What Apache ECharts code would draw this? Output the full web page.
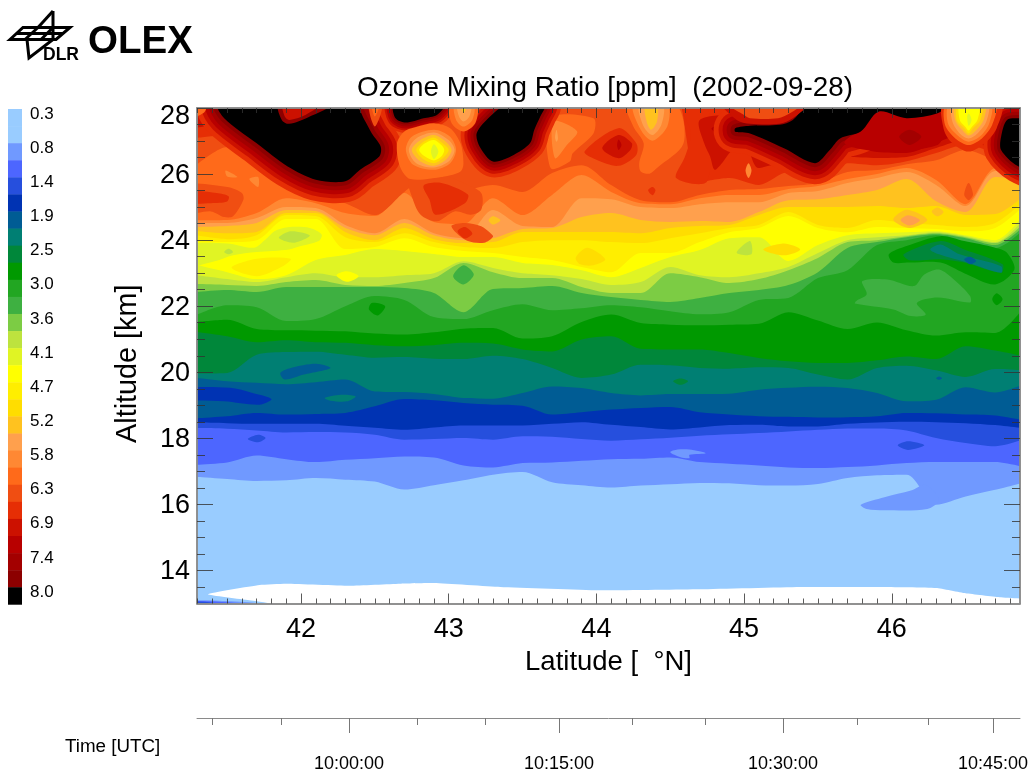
<!DOCTYPE html>
<html><head><meta charset="utf-8">
<style>html,body{margin:0;padding:0;background:#fff}#c{width:1033px;height:774px}</style>
<script src="https://cdn.jsdelivr.net/npm/echarts@6/dist/echarts.min.js"></script>
</head><body><div id="c"></div>
<script>
// ---------- legend ----------
const levelColors = [null,'#99CCFF','#99CCFF','#7099FF','#4D66FF','#264FDD','#0033B3','#005C94','#007F73','#00873A','#009900','#22A622','#3EB041','#7CCC44','#BDE33E','#E0F424','#FFFF00','#FFEE00','#FFDD00','#FFC21F','#FFA04D','#FF8833','#FF6A1A','#F04E12','#E62E05','#CC1100','#B80000','#A30000','#8C0000','#000000'];
const legendLabels = ['0.3','0.8','1.4','1.9','2.5','3.0','3.6','4.1','4.7','5.2','5.8','6.3','6.9','7.4','8.0'];
// ---------- axes ----------
const latLabels = [42,43,44,45,46];
const latMinor = [41.3,41.4,41.5,41.6,41.7,41.8,41.9,42.1,42.2,42.3,42.4,42.5,42.6,42.7,42.8,42.9,43.1,43.2,43.3,43.4,43.5,43.6,43.7,43.8,43.9,44.1,44.2,44.3,44.4,44.5,44.6,44.7,44.8,44.9,45.1,45.2,45.3,45.4,45.5,45.6,45.7,45.8,45.9,46.1,46.2,46.3,46.4,46.5,46.6,46.7,46.8];
const altLabels = [14,16,18,20,22,24,26,28];
const altMinor = [13.5,14.5,15,15.5,16.5,17,17.5,18.5,19,19.5,20.5,21,21.5,22.5,23,23.5,24.5,25,25.5,26.5,27,27.5];
const timeMajorLat = [42.325,43.747,45.263,46.685];
const timeLabels = ['10:00:00','10:15:00','10:30:00','10:45:00'];
const timeMinorLat = [41.40,41.865,42.785,43.25,44.24,44.735,45.765,46.245];
// ---------- contour boundaries: altitude [km] at each latitude station ----------
const latStations = [41.29,41.5,41.7,41.9,42.1,42.3,42.5,42.7,42.9,43.1,43.3,43.5,43.7,43.9,44.1,44.3,44.5,44.7,44.9,45.1,45.3,45.5,45.7,45.9,46.1,46.3,46.5,46.7,46.9];
const b3 = [16.83,16.77,16.71,16.73,16.80,16.75,16.69,16.45,16.58,16.73,16.90,16.98,16.67,16.58,16.51,16.57,16.61,16.65,16.64,16.58,16.57,16.62,16.80,16.88,16.90,15.99,16.24,16.44,16.67];
const b4 = [17.20,17.27,17.48,17.37,17.28,17.35,17.40,17.45,17.42,17.18,17.12,17.25,17.27,17.32,17.37,17.38,17.42,17.28,17.23,17.18,17.12,17.10,17.13,17.18,17.25,17.28,17.28,17.28,17.12];
const b5 = [18.31,18.29,18.24,18.18,18.19,18.18,18.11,17.96,17.98,18.01,17.96,18.06,18.05,17.98,17.93,17.97,18.02,18.08,18.12,18.16,18.21,18.26,18.30,18.30,18.24,18.01,17.86,17.76,17.98];
const b6 = [18.48,18.46,18.44,18.44,18.44,18.38,18.32,18.26,18.33,18.39,18.39,18.39,18.44,18.49,18.41,18.34,18.27,18.33,18.40,18.41,18.36,18.36,18.44,18.48,18.50,18.49,18.46,18.40,18.30];
const b7 = [18.61,18.67,18.77,18.72,18.74,18.77,18.97,19.19,19.15,19.07,19.02,18.99,18.72,18.79,18.87,18.92,18.95,18.79,18.72,18.67,18.65,18.63,18.64,18.67,18.77,18.76,18.72,18.69,18.54];
const b8 = [19.83,19.73,19.68,19.64,19.70,19.78,19.42,19.40,19.34,19.22,19.20,19.37,19.57,19.52,19.37,19.30,19.34,19.34,19.35,19.47,19.53,19.56,19.52,19.37,19.12,19.17,19.55,19.39,19.65];
const b9 = [19.96,19.98,20.53,20.61,20.62,20.53,20.44,20.46,20.41,20.40,20.50,20.40,20.13,19.83,19.93,20.23,20.21,20.13,20.11,20.15,20.13,19.93,19.78,20.13,20.20,20.06,19.86,20.10,20.06];
const b10 = [21.22,21.09,20.91,20.97,20.91,20.89,20.82,20.79,20.82,20.89,20.87,20.69,20.63,20.99,21.09,20.71,20.69,20.69,20.58,20.43,20.33,20.28,20.28,20.36,20.48,20.40,20.79,20.66,20.48];
const b11 = [21.52,21.59,21.31,21.27,21.26,21.24,21.17,21.14,21.21,21.32,21.34,21.02,21.09,21.52,21.75,21.49,21.44,21.42,21.44,21.47,21.82,21.57,21.31,21.51,21.27,21.11,21.21,21.19,22.0];
const b12 = [21.73,22.03,21.97,21.55,21.61,22.0,22.31,22.19,21.67,21.61,21.88,22.06,21.88,21.94,22.03,21.97,21.85,21.76,21.82,22.19,22.25,22.85,23.09,23.85,24.0,24.15,23.94,23.76,24.36];
const b13 = [22.43,22.49,22.43,22.58,22.58,22.58,22.58,22.55,22.40,21.82,22.52,22.55,22.61,22.40,22.28,22.19,22.13,22.25,22.40,22.49,22.64,23.03,23.76,23.94,24.09,24.18,24.06,23.85,24.46];
const b14 = [22.67,22.64,22.61,22.73,22.79,22.64,22.61,22.70,22.85,23.31,23.03,22.85,22.85,22.58,22.40,22.40,23.0,22.88,22.70,22.82,23.09,23.46,23.94,24.0,24.12,24.21,24.09,23.91,24.55];
const b15 = [22.94,22.82,22.73,22.88,23.0,22.88,22.88,22.94,23.0,23.36,23.16,23.0,22.94,22.82,22.64,22.73,23.19,22.94,22.88,23.0,23.19,23.61,24.0,24.09,24.15,24.24,24.12,23.94,24.67];
const b16 = [23.25,23.03,22.82,22.94,23.40,23.55,23.73,23.67,23.58,23.49,23.49,23.31,23.25,23.09,22.88,23.16,23.49,23.70,24.06,24.09,23.37,23.85,24.15,24.21,24.24,24.27,24.15,24.0,24.82];
const b17 = [23.97,23.94,24.0,24.64,24.64,23.73,23.79,24.06,23.79,23.67,23.61,23.49,23.40,23.19,23.03,23.61,23.61,23.94,24.24,24.37,24.73,24.37,24.24,24.40,24.37,24.34,24.27,24.37,25.06];
const b18 = [24.15,24.03,24.15,24.76,24.73,24.09,23.94,24.21,23.94,23.79,23.76,23.94,24.0,24.0,23.94,23.91,24.06,24.21,24.37,24.46,24.85,24.46,24.37,24.61,24.52,24.46,24.40,24.52,25.21];
const b19 = [24.28,24.21,24.25,24.82,24.82,24.25,24.0,24.37,24.03,23.91,23.94,24.25,24.25,24.25,24.25,24.21,24.37,24.43,24.46,24.76,25.0,25.0,25.0,25.03,24.97,25.03,24.76,24.79,25.37];
const b20 = [24.40,24.43,24.52,24.91,24.88,24.37,24.15,24.52,24.15,24.0,24.06,24.34,24.37,24.70,24.82,24.61,24.55,24.58,24.55,24.85,25.21,25.24,25.37,25.52,25.85,25.18,24.85,25.91,25.82];
const b21 = [24.52,24.52,24.67,25.0,24.97,24.46,24.21,24.64,24.21,24.06,24.91,24.43,24.40,25.27,25.24,25.0,24.97,25.09,25.15,25.15,25.43,25.49,25.73,25.88,26.06,25.67,25.03,26.09,26.06];
const b22 = [24.60,24.61,24.82,25.27,25.12,24.82,24.73,25.43,24.55,24.49,25.27,24.76,25.37,25.97,25.46,25.12,25.09,25.27,25.37,25.37,25.55,25.64,25.85,26.0,26.18,25.82,25.09,26.18,26.21];
const b23 = [26.27,26.82,26.21,25.58,25.37,25.12,24.76,25.46,26.06,25.52,25.67,25.46,26.03,26.27,25.67,25.21,25.15,25.37,25.52,25.55,25.64,25.73,26.06,26.12,26.30,26.42,26.73,26.42,26.12];
const b24 = [27.09,27.18,26.49,25.88,25.52,25.24,26.21,29,29,29,29,29,29,29,29,29,29,25.76,25.88,25.67,26.06,25.88,26.33,26.27,26.39,26.64,26.88,26.64,26.33];
const b25 = [27.39,27.55,26.64,25.97,25.61,25.30,26.33,29,29,29,29,29,29,29,29,29,29,29,29,26.18,26.37,25.97,26.52,26.49,26.52,26.79,27.03,26.73,26.49];
const b26 = [29,29,29,29,29,29,29,29,29,29,29,29,29,29,29,29,29,29,29,26.49,26.73,26.12,26.82,26.67,26.64,26.94,27.24,26.94,26.64];
const boundaries = [[3,b3],[4,b4],[5,b5],[6,b6],[7,b7],[8,b8],[9,b9],[10,b10],[11,b11],[12,b12],[13,b13],[14,b14],[15,b15],[16,b16],[17,b17],[18,b18],[19,b19],[20,b20],[21,b21],[22,b22],[23,b23],[24,b24],[25,b25],[26,b26]];
// ---------- closed contours: [level, [lat, alt, lat, alt, ...]] ----------
const basePatch = [[1,[41.2,12.9,47,12.9,47,28.1,41.2,28.1]]];
const lowerPatches = [
 [3,[41.2,13.09,41.75,13.0,41.75,12.9,41.2,12.9]],
 [4,[41.2,13.07,41.62,13.0,41.62,12.9,41.2,12.9]],
 [5,[41.2,13.05,41.42,13.01,41.42,12.9,41.2,12.9]],
 [3,[45.79,15.99,45.95,16.22,46.13,16.42,46.23,16.59,46.32,16.14,46.24,15.86,45.95,15.82,45.83,15.86]],
 [3,[44.50,17.58,44.55,17.66,44.63,17.66,44.74,17.55,44.63,17.50,44.63,17.40,44.57,17.43]],
 [5,[41.64,17.98,41.71,18.11,41.76,18.01,41.71,17.88]],
 [5,[46.04,17.79,46.11,17.91,46.22,17.79,46.11,17.65]],
 [6,[41.2,19.5,41.52,19.53,41.66,19.39,41.80,19.19,41.72,19.02,41.48,19.12,41.2,19.2]],
 [8,[42.16,19.22,42.27,19.32,42.37,19.27,42.31,19.12,42.20,19.14]],
 [7,[41.86,19.98,41.93,20.13,42.10,20.26,42.20,20.13,42.02,19.93,41.89,19.78]],
 [9,[44.52,19.73,44.57,19.81,44.62,19.73,44.57,19.62]],
 [7,[46.30,19.82,46.32,19.87,46.34,19.82,46.32,19.77]],
 [10,[42.46,21.9,42.48,22.1,42.57,22.0,42.52,21.72]],
 [10,[46.68,22.21,46.71,22.39,46.75,22.21,46.71,22.03]],
 [12,[45.80,22.76,45.97,22.81,46.15,22.61,46.22,22.96,46.32,23.11,46.42,22.81,46.53,22.31,46.53,22.11,46.31,22.26,46.17,22.10,46.23,21.75,46.13,21.70,46.01,21.9,45.75,22.08,45.76,22.16,45.83,22.36]],
 [12,[43.03,22.91,43.10,23.24,43.17,22.96,43.10,22.66]],
 [10,[45.98,23.57,46.10,23.82,46.33,24.12,46.49,23.97,46.70,23.77,46.78,23.62,46.83,23.11,46.70,22.66,46.49,23.0,46.33,23.32,46.12,23.32,46.01,23.32]],
 [9,[46.08,23.57,46.33,23.97,46.49,23.72,46.75,23.27,46.74,23.01,46.49,23.32,46.33,23.42,46.12,23.39]],
 [8,[46.26,23.72,46.33,23.87,46.46,23.57,46.74,23.21,46.74,23.01,46.51,23.32,46.32,23.57]],
 [7,[46.49,23.42,46.53,23.50,46.57,23.37,46.53,23.27]],
 [15,[41.2,23.82,41.50,23.90,41.68,23.77,41.76,24.02,41.82,24.27,41.91,24.39,42.06,24.37,42.14,24.17,42.12,23.97,42.0,23.82,41.92,23.72,41.70,23.64,41.54,23.54,41.41,23.35,41.2,23.2]],
 [14,[41.85,24.07,41.93,24.27,42.06,24.14,41.95,23.92]],
 [14,[41.48,23.64,41.51,23.74,41.54,23.64,41.51,23.57]],
 [17,[41.53,23.17,41.70,23.44,41.93,23.44,41.88,23.22,41.70,22.91]],
 [16,[42.24,22.94,42.31,23.06,42.39,22.91,42.31,22.74]],
 [14,[44.95,23.62,45.04,23.97,45.05,23.57]],
 [18,[43.86,23.47,43.94,23.77,44.06,23.42,43.98,23.24,43.89,23.27]],
 [18,[45.13,23.72,45.27,23.90,45.38,23.72,45.27,23.54]],
 [19,[46.01,24.62,46.10,24.92,46.24,24.62,46.12,24.37]],
 [20,[46.06,24.60,46.11,24.75,46.19,24.60,46.12,24.44]],
 [19,[46.27,24.87,46.31,24.99,46.35,24.85,46.31,24.72]],
 [19,[43.27,24.60,43.30,24.72,43.35,24.60,43.30,24.47]],
 [23,[41.2,25.65,41.50,25.61,41.60,25.43,41.61,25.22,41.54,24.72,41.48,24.70,41.39,24.87,41.2,24.82]],
 [24,[41.2,25.48,41.43,25.43,41.51,25.33,41.50,25.17,41.39,25.12,41.2,25.14]],
 [21,[41.49,26.11,41.57,25.91,41.50,25.93]],
 [21,[41.65,25.85,41.71,25.91,41.71,25.61]],
 [23,[42.73,25.83,42.88,25.88,43.0,25.91,43.10,25.73,43.22,25.43,43.22,24.92,43.15,24.77,43.04,24.87,42.92,24.57,42.81,24.77,42.75,25.33]],
 [24,[42.83,25.65,42.95,25.73,43.13,25.38,43.11,25.12,42.91,24.77,42.87,25.23]],
 [23,[43.02,24.44,43.11,24.52,43.22,24.42,43.28,24.22,43.30,24.10,43.24,23.92,43.13,23.97,43.04,24.27]],
 [24,[43.06,24.27,43.11,24.40,43.16,24.20,43.11,24.05]],
 [22,[43.69,27.69,43.98,27.69,43.98,27.23,43.84,26.63,43.82,26.38,43.69,26.18]],
 [21,[43.71,27.59,43.87,27.29,43.80,26.88,43.72,26.48]],
 [20,[43.72,27.1,43.73,27.34,43.74,27.08,43.73,26.98]],
 [24,[43.92,26.68,44.15,27.39,44.27,26.93,44.27,26.58,44.15,26.25,44.0,26.43]],
 [25,[44.04,26.78,44.15,27.18,44.24,26.93,44.23,26.73,44.15,26.48]],
 [26,[44.15,27.05,44.17,26.88,44.15,26.73,44.14,26.88]],
 [22,[44.30,26.08,44.29,26.33,44.32,26.93,44.25,27.44,44.21,28.09,44.54,28.09,44.59,26.93,44.41,26.18,44.36,26.01]],
 [24,[44.35,25.51,44.38,25.61,44.40,25.51,44.38,25.36]],
 [24,[44.58,28.09,44.75,28.09,44.75,25.78,44.54,25.88,44.60,26.53,44.64,27.23]],
 [25,[44.70,27.64,44.73,26.93,44.77,26.53,44.80,26.13,44.85,26.33,44.93,26.73,45.11,26.48,45.18,26.33,45.18,27.64,44.95,27.79]],
 [26,[44.78,27.39,44.95,27.64,45.18,27.64,45.18,26.68,44.95,26.98,44.86,27.13]],
 [27,[44.86,27.34,45.0,27.49,45.18,27.49,45.18,26.88,44.97,27.08]],
 [28,[44.95,27.34,45.04,27.42,45.18,27.34,45.18,27.03,45.02,27.15]],
 [21,[45.03,26.33,45.05,26.11,45.03,25.88,45.01,26.11]],
 [23,[46.52,25.73,46.55,25.38,46.52,25.21,46.49,25.38]]
];
// black areas (highest ozone level)
const blackA = [41.44,28.09,41.48,27.69,41.70,26.93,41.91,26.23,42.10,25.83,42.30,25.78,42.40,26.13,42.53,26.53,42.54,26.83,42.48,27.23,42.43,27.64,42.36,28.09];
const blackB = [42.63,28.09,42.64,27.69,42.71,27.56,42.83,27.69,42.92,27.79,42.97,28.09];
const blackC = [43.39,28.09,43.28,27.74,43.19,27.24,43.21,26.83,43.30,26.38,43.44,26.58,43.55,26.93,43.58,27.34,43.62,27.74,43.65,28.09];
const blackDBowl = [44.94,27.39,45.04,27.46,45.24,27.49,45.33,27.64,45.44,28.09,45.91,28.09,45.91,27.89,45.79,27.29,45.65,27.08,45.58,26.73,45.48,26.33,45.27,26.78,45.04,27.23,44.94,27.28];
const blackD = [44.94,27.39,45.04,27.46,45.24,27.49,45.33,27.64,45.44,28.09,46.37,28.09,46.31,27.84,46.10,27.69,45.91,27.89,45.79,27.29,45.65,27.08,45.58,26.73,45.48,26.33,45.27,26.78,45.04,27.23,44.94,27.28];
const blackE = [46.87,27.69,46.78,27.64,46.74,27.13,46.74,26.73,46.85,26.25,47.0,26.08,47.0,27.69];
const upperPatches = [
 [26,[45.83,27.49,45.91,27.94,46.40,28.09,46.36,27.34,46.31,26.88,45.94,26.68,45.68,26.93]],
 [27,[46.05,27.13,46.12,27.34,46.20,27.13,46.12,26.88]],
 [23,[42.46,28.09,42.50,27.44,42.55,28.09]],
 [22,[42.48,28.09,42.50,27.74,42.53,28.09]],
 [22,[41.2,28.1,41.36,28.1,41.34,27.85,41.2,27.65]],
 [29,blackA],[29,blackB],[29,blackC],[29,blackD],[29,blackE],
 [28,[41.85,28.09,41.87,27.64,41.92,27.52,42.05,27.72,42.2,28.09]],
 [25,[41.88,28.09,41.89,27.74,41.92,27.64,42.03,27.79,42.12,28.09]],
 [25,[44.86,28.09,44.95,27.64,45.04,27.52,45.24,27.52,45.33,27.69,45.42,28.09]],
 [23,[44.90,28.09,45.0,27.79,45.04,27.69,45.23,27.69,45.31,27.84,45.38,28.09]],
 // bright cell near 42.9 N
 [22,[42.65,26.93,42.70,27.29,42.79,27.44,42.90,27.54,43.01,27.39,43.08,26.93,43.10,26.33,43.08,26.08,42.97,25.93,42.74,25.85,42.67,26.23]],
 [21,[42.71,26.73,42.75,27.13,42.90,27.34,43.01,27.13,43.05,26.73,43.01,26.33,42.90,26.13,42.76,26.28]],
 [20,[42.73,26.73,42.78,27.08,42.90,27.26,43.0,27.03,43.04,26.73,43.0,26.38,42.90,26.20,42.78,26.33]],
 [19,[42.75,26.73,42.81,27.03,42.90,27.18,42.98,26.98,43.02,26.73,42.98,26.43,42.90,26.25,42.81,26.38]],
 [18,[42.78,26.73,42.83,26.98,42.90,27.11,42.96,26.93,43.0,26.73,42.96,26.48,42.90,26.33,42.83,26.45]],
 [16,[42.80,26.73,42.84,26.93,42.90,27.03,42.95,26.88,42.97,26.73,42.95,26.53,42.90,26.41,42.84,26.53]],
 [15,[42.88,26.68,42.90,26.90,42.93,26.68,42.90,26.45]],
 // bright cell at the top near 43.1 N
 [22,[43.01,28.09,43.02,27.54,43.10,27.29,43.18,27.54,43.19,28.09]],
 [21,[43.04,28.09,43.05,27.64,43.10,27.44,43.16,27.64,43.17,28.09]],
 [20,[43.06,28.09,43.07,27.74,43.10,27.59,43.14,27.74,43.15,28.09]],
 [18,[43.09,28.09,43.10,27.84,43.12,28.09]],
 // bright cell at the top near 44.4 N
 [21,[44.25,28.09,44.30,27.34,44.38,27.01,44.48,27.44,44.48,28.09]],
 [20,[44.29,28.09,44.32,27.44,44.38,27.18,44.44,27.49,44.45,28.09]],
 [19,[44.33,28.09,44.34,27.59,44.37,27.34,44.41,27.59,44.41,28.09]],
 // bright cell near 46.5 N
 [24,[46.35,28.09,46.35,27.39,46.40,26.98,46.52,26.68,46.64,26.98,46.71,27.39,46.74,28.09]],
 [22,[46.37,28.09,46.36,27.49,46.43,27.08,46.52,26.88,46.61,27.08,46.68,27.49,46.70,28.09]],
 [21,[46.39,28.09,46.38,27.54,46.45,27.15,46.52,26.98,46.60,27.15,46.66,27.54,46.67,28.09]],
 [20,[46.41,28.09,46.41,27.59,46.46,27.23,46.52,27.08,46.58,27.23,46.64,27.59,46.65,28.09]],
 [19,[46.43,28.09,46.43,27.62,46.48,27.32,46.52,27.17,46.57,27.32,46.62,27.62,46.63,28.09]],
 [18,[46.45,28.09,46.44,27.64,46.49,27.39,46.52,27.23,46.55,27.39,46.60,27.64,46.61,28.09]],
 [16,[46.46,28.09,46.46,27.64,46.50,27.42,46.52,27.32,46.54,27.42,46.58,27.64,46.59,28.09]],
 [15,[46.51,27.74,46.52,27.84,46.54,27.64,46.52,27.46]]
];
const noDataPatch = [41.37,13.28,41.72,13.56,41.90,13.60,42.33,13.54,42.67,13.60,42.90,13.62,43.35,13.50,44.02,13.40,44.70,13.43,45.38,13.50,45.92,13.50,46.30,13.47,46.50,13.31,46.73,13.19,46.90,13.13,46.95,12.9,42.0,12.9,41.65,13.1];

// ---------- drawing ----------
const FONT = '"Liberation Sans", Arial, sans-serif';
const LATMIN = 41.296, LATMAX = 46.868;
function polyItem(flat, api, fill, stroke, lw, smooth){
  const pts=[]; for(let i=0;i<flat.length;i+=2) pts.push(api.coord([flat[i],flat[i+1]]));
  return {type:'polygon',shape:{points:pts,smooth:smooth},style:{fill:fill,stroke:stroke||null,lineWidth:lw||0,lineJoin:'round'}};
}
function patchSeries(list,z,smooth){
  return {type:'custom',coordinateSystem:'cartesian2d',xAxisIndex:0,yAxisIndex:0,clip:true,silent:true,z:z,
    data:list.map((_,i)=>[i]),encode:{x:-1,y:-1},
    renderItem:(p,api)=>{const e=list[p.dataIndex];return polyItem(e[1],api,levelColors[e[0]],e[2],e[3],smooth);}};
}
// rings hugging the black areas: level, stroke width around the outline
const ringSteps = [[24,42],[25,32],[26,24],[27,16],[28,8]];
const ringBlobs = [[blackA,1],[blackB,0.5],[blackC,0.75],[blackDBowl,1],[blackE,0.8]];
const ringList=[];
ringSteps.forEach(([lv,w])=>ringBlobs.forEach(([b,f])=>ringList.push([lv,b,levelColors[lv],w*f])));

const series=[patchSeries(basePatch,1,0)];
boundaries.forEach(([lv,arr],i)=>series.push({type:'line',xAxisIndex:0,yAxisIndex:0,silent:true,z:3+i,
  data:latStations.map((x,j)=>[x,arr[j]]),showSymbol:false,symbol:'none',smooth:0.3,clip:true,
  lineStyle:{width:0,color:levelColors[lv]},itemStyle:{color:levelColors[lv]},
  areaStyle:{color:levelColors[lv],opacity:1,origin:'end'}}));
series.push(patchSeries(lowerPatches,40,0.3));
series.push(patchSeries(ringList,41,0.3));
series.push(patchSeries(upperPatches,42,0.3));
series.push(patchSeries([[0,noDataPatch]],43,0.15));
series[series.length-1].renderItem=(p,api)=>polyItem(noDataPatch,api,'#ffffff',null,0,0.15);

function mkX(extra){return Object.assign({type:'value',gridIndex:0,min:LATMIN,max:LATMAX,z:60,splitLine:{show:false},
  axisLine:{show:true,onZero:false,lineStyle:{color:'#8a8a8a',width:1.5}},axisLabel:{show:false},axisPointer:{show:false}},extra);}
function mkY(extra){return Object.assign({type:'value',gridIndex:0,min:13,max:28,z:60,splitLine:{show:false},
  axisLine:{show:true,onZero:false,lineStyle:{color:'#8a8a8a',width:1.5}},axisLabel:{show:false},axisPointer:{show:false}},extra);}
const tickStyle={color:'rgba(50,50,50,0.8)',width:1};
const xAxes=[
 mkX({position:'bottom',name:'Latitude [  °N]',nameLocation:'middle',nameGap:42,nameTextStyle:{fontFamily:FONT,fontSize:27.5,color:'#000'},
   axisTick:{inside:true,length:10,lineStyle:tickStyle,customValues:latLabels},
   axisLabel:{show:true,margin:13,fontFamily:FONT,fontSize:27,color:'#000',customValues:latLabels,formatter:v=>String(v)}}),
 mkX({position:'bottom',axisTick:{inside:true,length:5,lineStyle:tickStyle,customValues:latMinor}}),
 mkX({position:'top',axisTick:{inside:true,length:10,lineStyle:tickStyle,customValues:latLabels}}),
 mkX({position:'top',axisTick:{inside:true,length:5,lineStyle:tickStyle,customValues:latMinor}}),
 // time axis, drawn on the latitude scale of the flight track
 {type:'value',gridIndex:1,position:'bottom',min:LATMIN,max:LATMAX,splitLine:{show:false},axisPointer:{show:false},
   axisLine:{show:true,onZero:false,lineStyle:{color:'#8a8a8a',width:1}},
   axisTick:{length:15,lineStyle:{color:'#777',width:1},customValues:timeMajorLat},
   axisLabel:{show:true,margin:37,hideOverlap:false,fontFamily:FONT,fontSize:18,color:'#000',customValues:timeMajorLat,
     formatter:v=>timeLabels[timeMajorLat.indexOf(v)]||''}},
 {type:'value',gridIndex:1,position:'bottom',min:LATMIN,max:LATMAX,splitLine:{show:false},axisPointer:{show:false},
   axisLine:{show:false},axisLabel:{show:false},
   axisTick:{length:7,lineStyle:{color:'#777',width:1},customValues:timeMinorLat}}
];
const yAxes=[
 mkY({position:'left',name:'Altitude [km]',nameLocation:'middle',nameGap:54,nameRotate:90,nameTextStyle:{fontFamily:FONT,fontSize:28.8,color:'#000',padding:[0,16,0,0]},
   axisTick:{inside:true,length:16,lineStyle:tickStyle,customValues:altLabels},
   axisLabel:{show:true,margin:7,fontFamily:FONT,fontSize:27,color:'#000',padding:[3,0,0,0],customValues:altLabels,
     formatter:v=>v===28?'{top|28}':String(v),
     rich:{top:{fontFamily:FONT,fontSize:27,color:'#000',padding:[14,0,0,0]}}}}),
 mkY({position:'left',axisTick:{inside:true,length:8,lineStyle:tickStyle,customValues:altMinor}}),
 mkY({position:'right',axisTick:{inside:true,length:16,lineStyle:tickStyle,customValues:altLabels}}),
 mkY({position:'right',axisTick:{inside:true,length:8,lineStyle:tickStyle,customValues:altMinor}}),
 {type:'value',gridIndex:1,min:0,max:1,show:false}
];
// legend and logo
const SW_TOP=109, SW_H=17.08;
const graphic=[];
levelColors.slice(1).forEach((c,i)=>graphic.push({type:'rect',silent:true,shape:{x:8,y:SW_TOP+SW_H*i,width:14,height:SW_H+0.4},style:{fill:c}}));
legendLabels.forEach((t,i)=>graphic.push({type:'text',silent:true,x:30,y:114+34.15*i,style:{text:t,font:'17px '+FONT,fill:'#000',textVerticalAlign:'middle',verticalAlign:'middle'}}));
const logoStroke={fill:'none',stroke:'#000',lineWidth:3,lineJoin:'miter'};
[[[10,39.5],[23,27.5],[70,27.5],[56,39.5]],[[53,11],[38,27.5]],[[53,11],[53,39.5],[29,58],[27,39.5]],[[25,39.5],[38,27.5]],[[41,39.5],[53,27.5]],[[16.5,33.5],[63,33.5]]]
 .forEach((pts,i)=>graphic.push({type:i===0?'polygon':'polyline',silent:true,shape:{points:pts},style:logoStroke}));
graphic.push({type:'text',silent:true,x:43,y:46,style:{text:'DLR',font:'bold 17.5px '+FONT,fill:'#000'}});
graphic.push({type:'text',silent:true,x:88,y:23,style:{text:'OLEX',font:'bold 38.5px '+FONT,fill:'#000'}});
graphic.push({type:'text',silent:true,x:65,y:737,style:{text:'Time [UTC]',font:'18.8px '+FONT,fill:'#000'}});

const chart=echarts.init(document.getElementById('c'),null,{renderer:'canvas'});
chart.setOption({
  animation:false,backgroundColor:'#fff',
  title:{text:'Ozone Mixing Ratio [ppm]  (2002-09-28)',left:600,top:69,textAlign:'center',textStyle:{fontFamily:FONT,fontSize:27.8,fontWeight:'normal',color:'#000'}},
  grid:[{left:197,width:823,top:108,height:495.5},{left:197,width:823,top:717,height:1}],
  xAxis:xAxes,yAxis:yAxes,series:series,graphic:graphic,tooltip:{show:false},legend:{show:false}
});
</script></body></html>
